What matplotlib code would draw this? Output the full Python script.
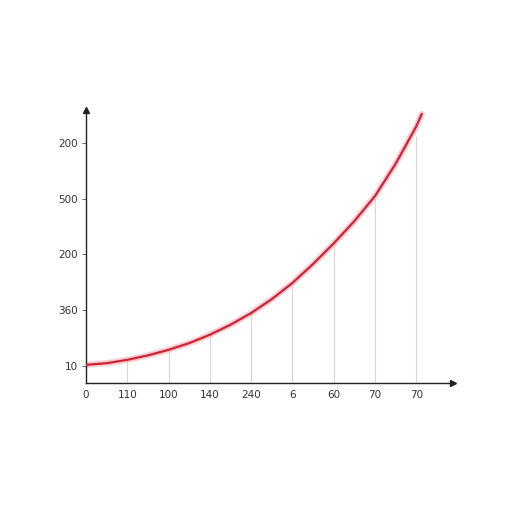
import numpy as np
import matplotlib
matplotlib.use("Agg")
import matplotlib.pyplot as plt

# tick labels as printed on the chart
x_labels = ["0", "110", "100", "140", "240", "6", "60", "70", "70"]
y_labels = ["10", "360", "200", "500", "200"]

# curve (x in tick steps, y in tick steps)
curve_x = [0, 0.5, 1, 1.5, 2, 2.5, 3, 3.5, 4, 4.5, 5, 5.5, 6, 6.5, 7, 7.5, 8, 8.13]
curve_y = [0.02, 0.05, 0.11, 0.19, 0.29, 0.41, 0.56, 0.74, 0.95, 1.20,
           1.49, 1.83, 2.20, 2.60, 3.05, 3.63, 4.30, 4.52]

# drop lines: from the axis up to the curve at each x tick
drop_x = [1, 2, 3, 4, 5, 6, 7, 8]
drop_top = [0.10, 0.28, 0.54, 0.93, 1.47, 2.18, 3.0, 4.1]

fig = plt.figure(figsize=(5.12, 5.12), dpi=100)
ax = fig.add_axes([0.168, 0.252, 0.717, 0.533])

xmin, xmax = 0, 8.89
ymin, ymax = -0.305, 4.59
ax.set_xlim(xmin, xmax)
ax.set_ylim(ymin, ymax)

for xd, yt in zip(drop_x, drop_top):
    ax.plot([xd, xd], [ymin, yt], color="#d6d6d6", lw=0.8, zorder=1)

# soft glow under the line
ax.plot(curve_x, curve_y, color="#f2a3ab", lw=4.5, alpha=0.5, zorder=2,
        solid_capstyle="round", solid_joinstyle="round")
ax.plot(curve_x, curve_y, color="#cf2236", lw=1.6, zorder=3,
        solid_capstyle="round", solid_joinstyle="round")

for s in ["top", "right"]:
    ax.spines[s].set_visible(False)
for s in ["left", "bottom"]:
    ax.spines[s].set_color("#222222")
    ax.spines[s].set_linewidth(1.0)

# arrow heads at the ends of the axes
ax.plot(1, 0, ">", color="#222222", ms=5, transform=ax.transAxes, clip_on=False)
ax.plot(0, 1, "^", color="#222222", ms=5, transform=ax.transAxes, clip_on=False)

ax.set_xticks(range(len(x_labels)))
ax.set_xticklabels(x_labels)
ax.set_yticks(range(len(y_labels)))
ax.set_yticklabels(y_labels)
ax.tick_params(axis="x", length=0, pad=5, labelsize=7.5, labelcolor="#333333")
ax.tick_params(axis="y", length=3, width=0.6, color="#555555", pad=3,
               labelsize=7.5, labelcolor="#333333")

fig.savefig("out.png", dpi=100, facecolor="white")
